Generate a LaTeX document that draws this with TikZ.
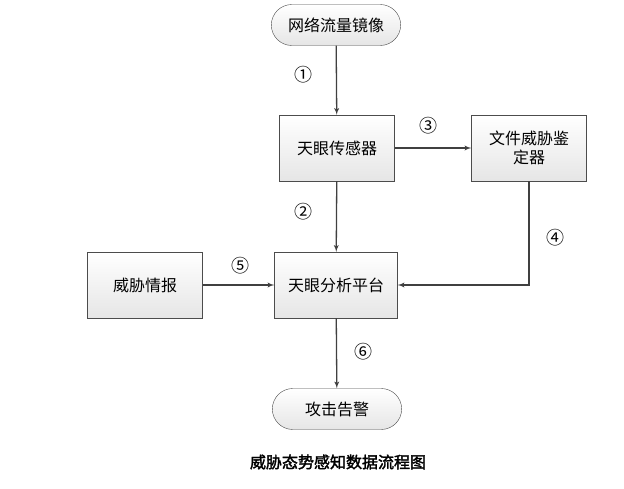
\documentclass[tikz,border=0pt]{standalone}
\usepackage{fontspec}
\setmainfont{Noto Sans CJK SC}
\newfontfamily\capfont[FakeBold=2]{Noto Sans CJK SC}
\usetikzlibrary{shapes,arrows,positioning}
\tikzstyle{block} = [rectangle, draw=black!70, top color=white, bottom color=black!10, text centered, minimum width=115pt, minimum height=66pt, font=\fontsize{16pt}{19pt}\selectfont]
\tikzstyle{term} = [rounded rectangle, draw=black!70, top color=white, bottom color=black!10, text centered, minimum width=136pt, minimum height=41pt, font=\fontsize{16pt}{19pt}\selectfont]
\tikzstyle{line} = [draw, line width=1.3pt, black!75, -latex']
\tikzstyle{num} = [font=\fontsize{18pt}{20pt}\selectfont]
\begin{document}
\begin{tikzpicture}[x=1pt, y=-1pt]
			\useasboundingbox[fill=white] (0,0) rectangle (624,488);
			\node [term] (mirror) at (336,25) {网络流量镜像};
			\node [block] (sensor) at (337,148) {天眼传感器};
			\node [block, text width=100pt] (judge) at (529,148) {文件威胁鉴\\定器};
			\node [block, minimum width=123pt] (platform) at (336,285) {天眼分析平台};
			\node [block] (intel) at (145,285) {威胁情报};
			\node [term] (alert) at (337,409) {攻击告警};
			\node [font=\capfont\fontsize{16pt}{19pt}\selectfont] (title) at (338,462) {威胁态势感知数据流程图};
			\node [num] (n1) at (303,75) {①};
			\node [num] (n2) at (303,212) {②};
			\node [num] (n3) at (428,126) {③};
			\node [num] (n4) at (555,238) {④};
			\node [num] (n5) at (240,266) {⑤};
			\node [num] (n6) at (363,352) {⑥};
			\path [line] (mirror) -- (sensor);
			\path [line] (sensor) -- (judge);
			\path [line] (sensor) -- (platform);
			\path [line] (judge.south) |- (platform.east);
			\path [line] (intel) -- (platform);
			\path [line] (platform) -- (alert);
		\end{tikzpicture}
\end{document}
